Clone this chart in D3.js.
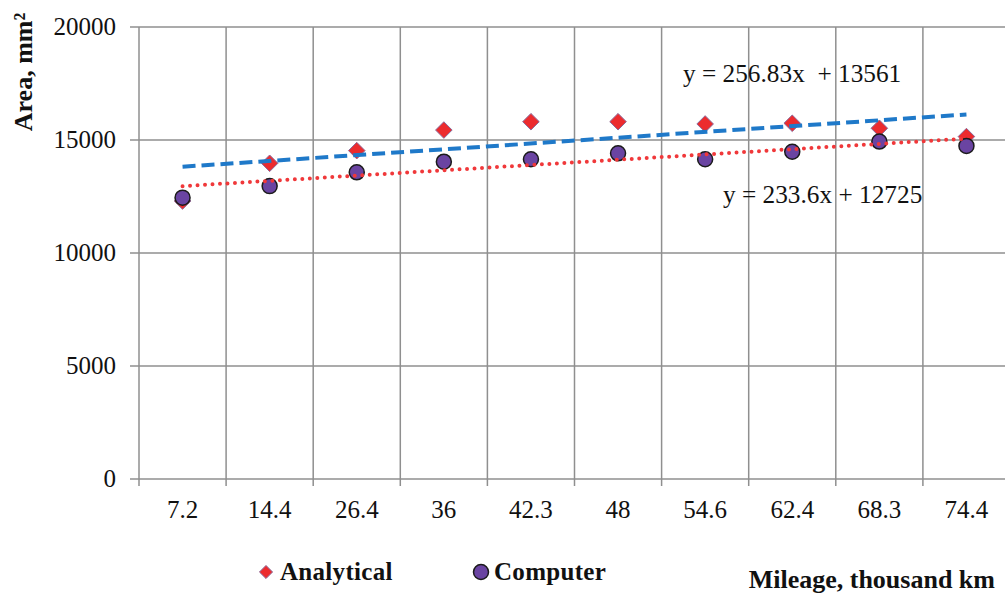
<!DOCTYPE html>
<html>
<head>
<meta charset="utf-8">
<script src="https://cdn.jsdelivr.net/npm/d3@7"></script>
<style>
  body { margin: 0; background: #fff; }
  svg { display: block; font-family: "Liberation Serif", "Times New Roman", serif; }
</style>
</head>
<body>
<div id="chart"></div>
<script>
// mileage categories (thousand km)
const categories = ["7.2", "14.4", "26.4", "36", "42.3", "48", "54.6", "62.4", "68.3", "74.4"];
const analytical = [12300, 13970, 14530, 15440, 15810, 15810, 15710, 15740, 15520, 15150];
const computer = [12450, 12960, 13570, 14040, 14150, 14410, 14150, 14480, 14930, 14740];
const yTicks = [0, 5000, 10000, 15000, 20000];

// linear trend lines as printed on the chart (x = point number 1..10)
const trendAnalytical = { slope: 256.83, intercept: 13561, label: "y = 256.83x  + 13561" };
const trendComputer = { slope: 233.6, intercept: 12725, label: "y = 233.6x + 12725" };

const W = 1005, H = 595;
const svg = d3.select('#chart').append('svg')
  .attr('width', W)
  .attr('height', H);

const x = d3.scaleBand()
  .domain(categories)
  .range([139, 1010])
  .padding(0);

const y = d3.scaleLinear()
  .domain([0, 20000])
  .range([479, 27]);

const gridColor = '#8f8f8f';

// horizontal grid
svg.append('g')
  .selectAll('line')
  .data(yTicks)
  .enter()
  .append('line')
  .attr('x1', 130)
  .attr('x2', 1010)
  .attr('y1', d => y(d))
  .attr('y2', d => y(d))
  .attr('stroke', gridColor)
  .attr('stroke-width', 1.5);

// vertical grid (band boundaries)
const bounds = categories.map(c => x(c)).concat([x.range()[1]]);
svg.append('g')
  .selectAll('line')
  .data(bounds)
  .enter()
  .append('line')
  .attr('x1', d => d)
  .attr('x2', d => d)
  .attr('y1', y(20000))
  .attr('y2', y(0) + 7)
  .attr('stroke', gridColor)
  .attr('stroke-width', 1.5);

// y tick labels
svg.append('g')
  .selectAll('text')
  .data(yTicks)
  .enter()
  .append('text')
  .attr('x', 116)
  .attr('y', d => y(d) + 8)
  .attr('text-anchor', 'end')
  .attr('font-size', '25px')
  .attr('fill', '#111')
  .text(d => d);

// x tick labels
svg.append('g')
  .selectAll('text')
  .data(categories)
  .enter()
  .append('text')
  .attr('x', d => x(d) + x.bandwidth() / 2)
  .attr('y', 518)
  .attr('text-anchor', 'middle')
  .attr('font-size', '25px')
  .attr('fill', '#111')
  .text(d => d);

// markers
const diamond = d3.symbol().type(d3.symbolDiamond2).size(175);
svg.append('g')
  .selectAll('path')
  .data(analytical)
  .enter()
  .append('path')
  .attr('d', diamond)
  .attr('transform', (d, i) => `translate(${x(categories[i]) + x.bandwidth() / 2},${y(d)})`)
  .attr('fill', '#ec2b2e')
  .attr('stroke', '#8a6a9a')
  .attr('stroke-width', 1);

svg.append('g')
  .selectAll('circle')
  .data(computer)
  .enter()
  .append('circle')
  .attr('cx', (d, i) => x(categories[i]) + x.bandwidth() / 2)
  .attr('cy', d => y(d))
  .attr('r', 7.5)
  .attr('fill', '#6a44a2')
  .attr('stroke', '#1b1b1b')
  .attr('stroke-width', 1.5);

// trend lines
function trendPts(t) {
  const n = categories.length;
  return [1, n].map(k => [x(categories[k - 1]) + x.bandwidth() / 2, y(t.slope * k + t.intercept)]);
}
const line = d3.line();

svg.append('path')
  .attr('d', line(trendPts(trendAnalytical)))
  .attr('stroke', '#1f79c9')
  .attr('stroke-width', 4)
  .attr('stroke-dasharray', '13,6')
  .attr('fill', 'none');

svg.append('path')
  .attr('d', line(trendPts(trendComputer)))
  .attr('stroke', '#f0383a')
  .attr('stroke-width', 4)
  .attr('stroke-linecap', 'round')
  .attr('stroke-dasharray', '0,7.5')
  .attr('fill', 'none');

// equation labels
svg.append('text')
  .attr('x', 683).attr('y', 82)
  .attr('font-size', '25.3px')
  .attr('fill', '#111')
  .style('white-space', 'pre')
  .text(trendAnalytical.label);

svg.append('text')
  .attr('x', 723).attr('y', 203)
  .attr('font-size', '25.3px')
  .attr('fill', '#111')
  .text(trendComputer.label);

// axis titles
svg.append('text')
  .attr('transform', 'translate(32,72) rotate(-90)')
  .attr('text-anchor', 'middle')
  .attr('font-size', '26px')
  .attr('font-weight', 'bold')
  .attr('fill', '#111')
  .text('Area, mm²');

svg.append('text')
  .attr('x', 995).attr('y', 588)
  .attr('text-anchor', 'end')
  .attr('font-size', '26px')
  .attr('font-weight', 'bold')
  .attr('fill', '#111')
  .text('Mileage, thousand km');

// legend
const legend = svg.append('g');
legend.append('path')
  .attr('d', d3.symbol().type(d3.symbolDiamond2).size(110))
  .attr('transform', 'translate(266,572)')
  .attr('fill', '#ec2b2e')
  .attr('stroke', '#8a6a9a');
legend.append('text')
  .attr('x', 280).attr('y', 580)
  .attr('font-size', '25px')
  .attr('font-weight', 'bold')
  .attr('letter-spacing', '0.3px')
  .attr('fill', '#111')
  .text('Analytical');
legend.append('circle')
  .attr('cx', 481).attr('cy', 572).attr('r', 7.5)
  .attr('fill', '#6a44a2')
  .attr('stroke', '#1b1b1b')
  .attr('stroke-width', 1.5);
legend.append('text')
  .attr('x', 494).attr('y', 580)
  .attr('font-size', '25px')
  .attr('font-weight', 'bold')
  .attr('letter-spacing', '0.3px')
  .attr('fill', '#111')
  .text('Computer');
</script>
</body>
</html>
